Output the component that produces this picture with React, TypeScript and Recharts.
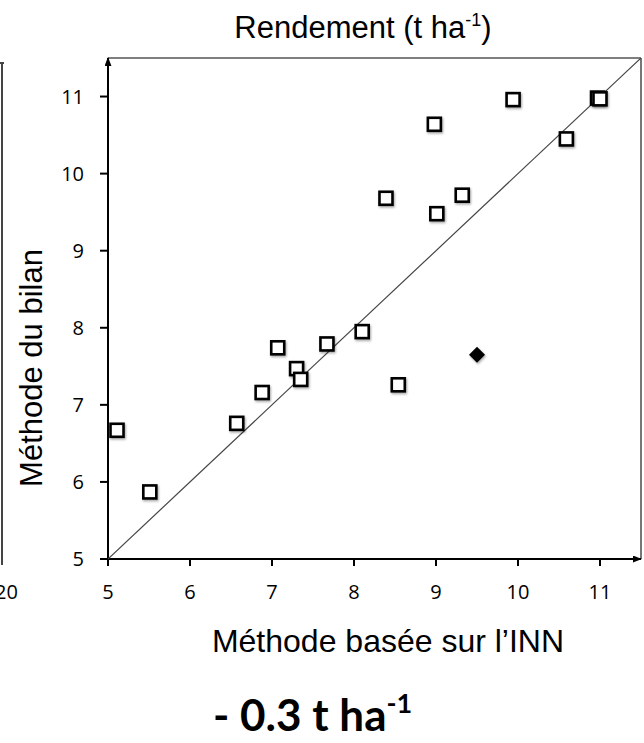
import React from 'react';
import { ScatterChart, Scatter, XAxis, YAxis, ReferenceLine, Customized } from 'recharts';

// INN-based method (x) vs balance method (y), yield t/ha
const squareX = [5.11, 5.51, 6.57, 6.88, 7.07, 7.3, 7.35, 7.67, 8.1, 8.54, 8.39, 8.98, 9.01, 9.32, 9.94, 10.59, 10.97, 11.0];
const squareY = [6.67, 5.87, 6.76, 7.16, 7.74, 7.47, 7.33, 7.79, 7.95, 7.26, 9.68, 10.64, 9.48, 9.72, 10.96, 10.45, 10.98, 10.97];
const diamondX = [9.5];
const diamondY = [7.65];
const lineX = [5, 11.5];
const lineY = [5, 11.5];
const tickValues = [5, 6, 7, 8, 9, 10, 11];
const axisMin = 5;
const axisMax = 11.5;

const squares = squareX.map((x, i) => ({ x, y: squareY[i] }));
const diamonds = diamondX.map((x, i) => ({ x, y: diamondY[i] }));
const diag = lineX.map((x, i) => ({ x, y: lineY[i] }));

const SquareShape = (props: any) => {
  const { cx, cy } = props;
  return (
    <rect x={cx - 6.5} y={cy - 6.5} width={13} height={13} fill="#fff" stroke="#000" strokeWidth={2.6} filter="url(#sh)" />
  );
};

const DiamondShape = (props: any) => {
  const { cx, cy } = props;
  return (
    <polygon points={`${cx},${cy - 8} ${cx + 8},${cy} ${cx},${cy + 8} ${cx - 8},${cy}`} fill="#000" filter="url(#sh)" />
  );
};

const NoShape = () => <g />;

const Defs = () => (
  <defs>
    <filter id="sh" x="-50%" y="-50%" width="200%" height="200%">
      <feDropShadow dx="1" dy="1.5" stdDeviation="1" floodColor="#000" floodOpacity="0.35" />
    </filter>
    <marker id="arr" viewBox="0 0 10 10" refX="9" refY="5" markerWidth="4.5" markerHeight="3.5" orient="auto-start-reverse" preserveAspectRatio="none">
      <path d="M0,0 L10,5 L0,10 z" fill="#000" />
    </marker>
  </defs>
);

const Texts = () => (
  <g>
    <text x={363} y={38} textAnchor="middle" fontFamily="'Liberation Sans', Arial, sans-serif" fontSize={31} fill="#000">
      Rendement (t ha<tspan fontSize={18} dy={-12}>-1</tspan><tspan dy={12}>)</tspan>
    </text>
    <text x={42} y={368} transform="rotate(-90, 42, 368)" textAnchor="middle" fontFamily="'Liberation Sans', Arial, sans-serif" fontSize={31} fill="#000">
      Méthode du bilan
    </text>
    <text x={388} y={652} textAnchor="middle" fontFamily="'Liberation Sans', Arial, sans-serif" fontSize={32} fill="#000">
      Méthode basée sur l’INN
    </text>
    <text x={213} y={731} textAnchor="start" fontFamily="Lato, 'Open Sans', sans-serif" fontWeight="bold" fontSize={44} fill="#000">
      - 0.3 t ha<tspan fontSize={27} dy={-18}>-1</tspan>
    </text>
  </g>
);

const tickStyle = { fill: '#000', fontSize: 20, fontWeight: 500, fontFamily: "'Open Sans', sans-serif" };

export default function App() {
  return (
    <div style={{ position: 'absolute', left: 0, top: 0, width: 644, height: 743, overflow: 'hidden', background: '#fff' }}>
      <ScatterChart width={644} height={743} margin={{ top: 58, right: 3, bottom: 0, left: 8 }}>
        <Customized component={Defs} />
        <XAxis
          type="number"
          dataKey="x"
          domain={[axisMin, axisMax]}
          ticks={tickValues}
          allowDataOverflow
          height={184}
          tickSize={7}
          tickMargin={19}
          axisLine={{ stroke: '#000', strokeWidth: 2, markerEnd: 'url(#arr)' }}
          tickLine={{ stroke: '#000', strokeWidth: 2 }}
          tick={tickStyle}
        />
        <YAxis
          type="number"
          dataKey="y"
          domain={[axisMin, axisMax]}
          ticks={tickValues}
          allowDataOverflow
          width={100}
          tickSize={8}
          tickMargin={16}
          axisLine={{ stroke: '#000', strokeWidth: 2, markerStart: 'url(#arr)' }}
          tickLine={{ stroke: '#000', strokeWidth: 2 }}
          tick={tickStyle}
        />
        <ReferenceLine
          segment={[{ x: axisMin, y: axisMax }, { x: axisMax, y: axisMax }]}
          stroke="#555"
          strokeWidth={1.6}
          ifOverflow="visible"
        />
        <ReferenceLine
          segment={[{ x: axisMax, y: axisMin }, { x: axisMax, y: axisMax }]}
          stroke="#555"
          strokeWidth={1.6}
          ifOverflow="visible"
        />
        <Scatter data={diag} line={{ stroke: '#444', strokeWidth: 1.2 }} shape={NoShape} isAnimationActive={false} />
        <Scatter data={squares} shape={SquareShape} isAnimationActive={false} />
        <Scatter data={diamonds} shape={DiamondShape} isAnimationActive={false} />
        <Customized component={Texts} />
      </ScatterChart>
      <div style={{ position: 'absolute', left: 1, top: 62, width: 2, height: 503, background: '#444', zIndex: 2 }} />
      <div style={{ position: 'absolute', left: 0, top: 62, width: 4, height: 2, background: '#444', zIndex: 2 }} />
      <div style={{ position: 'absolute', left: -5, top: 580, fontFamily: "'Open Sans', sans-serif", fontSize: 20, fontWeight: 500, lineHeight: '24px', color: '#000', zIndex: 2 }}>20</div>
    </div>
  );
}
